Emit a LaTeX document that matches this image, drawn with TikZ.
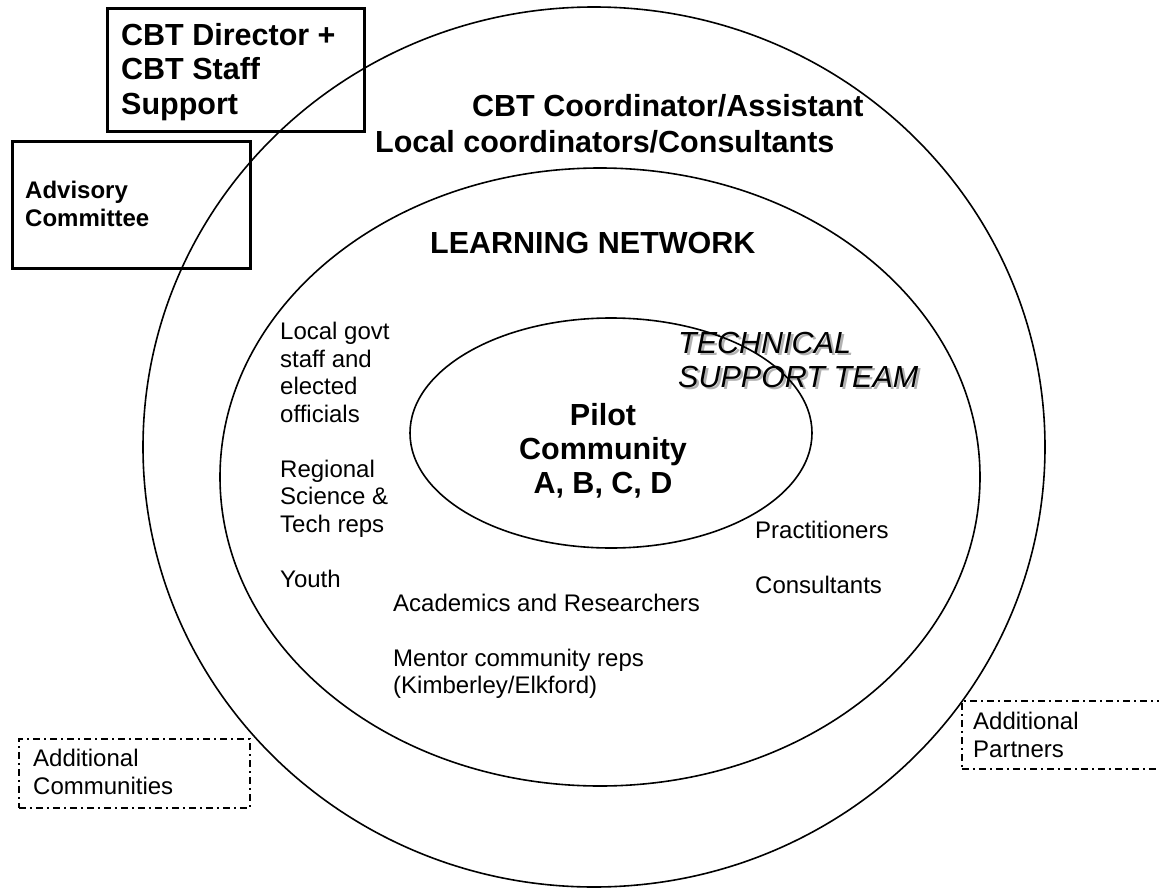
\documentclass[tikz,border=0pt]{standalone}
\usepackage{fontspec}
\setmainfont{Liberation Sans}
\begin{document}
\begin{tikzpicture}[x=1pt,y=-1pt,
  ring/.style={line width=1.6pt},
  solidbox/.style={draw, line width=3pt, inner sep=0pt, anchor=north west},
  dashbox/.style={draw, line width=1.5pt, dash pattern=on 7pt off 4pt on 2pt off 4pt, inner sep=0pt, anchor=north west},
  titlebold/.style={font=\fontsize{30.5}{35}\selectfont\bfseries, inner sep=0pt, align=left, anchor=base west},
  advbold/.style={font=\fontsize{24}{28}\selectfont\bfseries, inner sep=0pt, align=left, anchor=base west},
  plain/.style={font=\fontsize{24}{27.5}\selectfont, inner sep=0pt, align=left, anchor=base west},
  techtext/.style={font=\fontsize{30.5}{34}\selectfont\itshape, inner sep=0pt, align=left, anchor=base west},
  pilottext/.style={font=\fontsize{30.5}{34}\selectfont\bfseries, inner sep=0pt, align=center, anchor=base}
]
\useasboundingbox (0,0) rectangle (1159,888);

% boxes
\node[solidbox, minimum width=257pt, minimum height=123pt] (dirbox) at (106,7) {};
\node[solidbox, minimum width=238pt, minimum height=127pt] (advbox) at (11,140) {};
\node[dashbox, minimum width=231pt, minimum height=69pt] (combox) at (18,738) {};
\node[dashbox, minimum width=220pt, minimum height=68pt] (partbox) at (961,700) {};

% texts (anchor = baseline of the last line)
\node[titlebold] (dirtext) at (121,115) {CBT Director +\\CBT Staff\\Support};
\node[advbold] (advtext) at (25,226) {Advisory\\Committee};
\node[titlebold] (coord) at (472,117) {CBT Coordinator/Assistant};
\node[titlebold] (local) at (375,153) {Local coordinators/Consultants};
\node[titlebold] (learn) at (430,253) {LEARNING NETWORK};

\node[techtext, text=black!30] (techshadow) at (680.5,389.5) {TECHNICAL\\SUPPORT TEAM};
\node[techtext] (tech) at (678,387) {TECHNICAL\\SUPPORT TEAM};

\node[pilottext] (pilot) at (603,493) {Pilot\\Community\\A, B, C, D};

\node[plain] (leftcol) at (280,587) {Local govt\\staff and\\elected\\officials\\[27.5pt]Regional\\Science \&\\Tech reps\\[27.5pt]Youth};
\node[plain] (acad) at (393,693.5) {Academics and Researchers\\[27.5pt]Mentor community reps\\(Kimberley/Elkford)};
\node[plain] (pract) at (755,593) {Practitioners\\[27pt]Consultants};
\node[plain] (addcom) at (33,794) {Additional\\Communities};
\node[plain] (addpart) at (973,757) {Additional\\Partners};

% rings
\draw[ring] (594,447) ellipse [x radius=451pt, y radius=440pt];
\draw[ring] (600,477) ellipse [x radius=380pt, y radius=309pt];
\draw[ring] (611,433) ellipse [x radius=201pt, y radius=115pt];
\end{tikzpicture}
\end{document}
